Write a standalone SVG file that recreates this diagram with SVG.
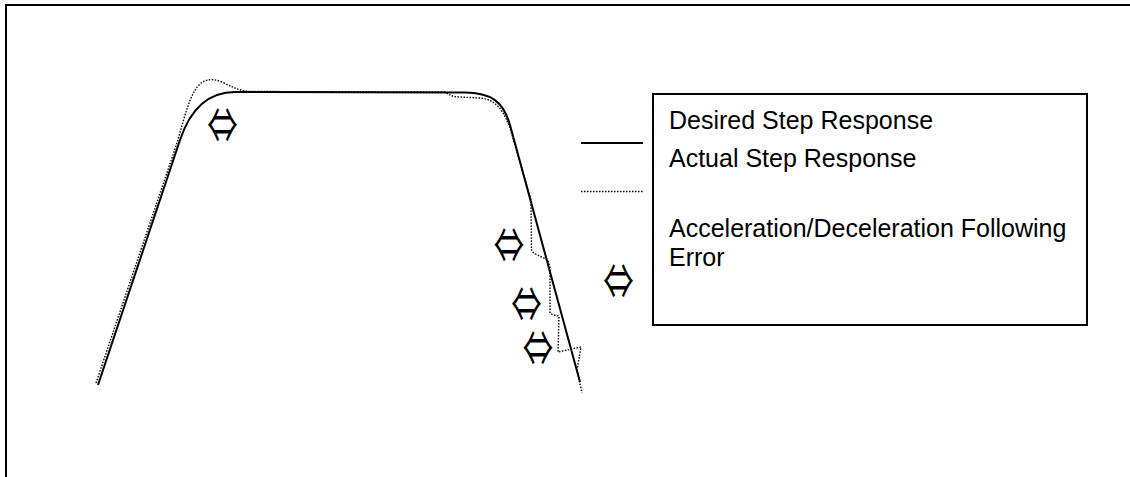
<svg xmlns="http://www.w3.org/2000/svg" width="1130" height="477" viewBox="0 0 1130 477">
<style>
.solid{fill:none;stroke:#000;stroke-width:2;stroke-linejoin:round}
.dot{fill:none;stroke:#000;stroke-width:1.4;stroke-dasharray:1.5 1.5}
.lbl{font-family:"Liberation Sans",Arial,sans-serif;font-size:25px;fill:#000}
.sym{font-family:"Noto Sans CJK JP","DejaVu Sans",sans-serif;font-size:29px;fill:#000;text-anchor:middle}
</style>
<rect width="1130" height="477" fill="#fff"/>
<g id="frame">
<path d="M6,477 L6,5 L1130,5" fill="none" stroke="#000" stroke-width="2"/>
</g>
<g id="curves">
<path id="desired" class="solid" d="M98,385 L180,140 C189,113 205,92 235,92 L465,92.5 C490,93 503,100 510,125 L580,382"/>
<path id="actual" class="dot" d="M96,383 L178,140 C184,118 190,95 198,86 C204,79 212,78 222,82 C232,87 240,91 250,91.5 L445,92 C450,95 452,97 460,97 L480,98 C495,99 505,110 512,135 L531,200 L531.5,250 C533,254 540,256 548,260 L550,268 L550,313 C552,315 556,315.5 559,316 L558,352 L581,347 L577,370 L582,393"/>
</g>
<g id="error-markers">
<text class="sym" transform="translate(222.5,123.5) scale(1.05,1.7)" y="11.5">⇔</text>
<text class="sym" transform="translate(509,243.5) scale(1.05,1.7)" y="11.5">⇔</text>
<text class="sym" transform="translate(526.5,302) scale(1.05,1.7)" y="11.5">⇔</text>
<text class="sym" transform="translate(538,346.5) scale(1.05,1.7)" y="11.5">⇔</text>
</g>
<g id="legend">
<line x1="581" y1="143" x2="643" y2="143" class="solid"/>
<line x1="581" y1="191.5" x2="643" y2="191.5" class="dot"/>
<text class="sym" transform="translate(618.5,279.5) scale(1.05,1.7)" y="11.5">⇔</text>
<rect x="653" y="94" width="434" height="231" fill="none" stroke="#000" stroke-width="2"/>
<text class="lbl" x="669" y="129">Desired Step Response</text>
<text class="lbl" x="669" y="167">Actual Step Response</text>
<text class="lbl" x="669" y="237">Acceleration/Deceleration Following</text>
<text class="lbl" x="669" y="266">Error</text>
</g>
</svg>
